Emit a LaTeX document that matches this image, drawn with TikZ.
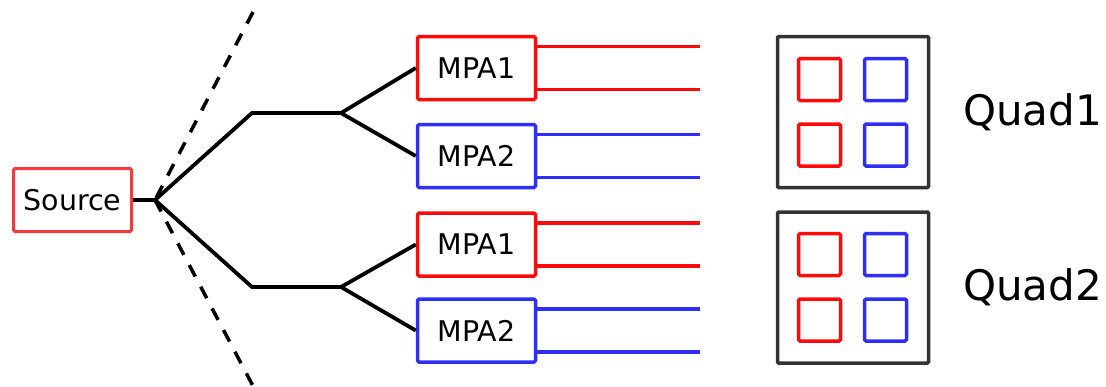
\documentclass[tikz,border=0pt]{standalone}
\usepackage{fontspec}
\setmainfont{DejaVu Sans}
\definecolor{myred}{HTML}{FF0A0A}
\definecolor{srcred}{HTML}{F43A3A}
\definecolor{myblue}{HTML}{2E2EF5}
\definecolor{frame}{HTML}{333333}
\begin{document}
\begin{tikzpicture}[x=1pt,y=-1pt,
  box/.style={draw, line width=3.5pt, minimum width=118pt, minimum height=63pt, rounded corners=1.5pt, inner sep=0pt, font=\fontsize{28.5}{30}\selectfont},
  redbox/.style={box, draw=myred},
  bluebox/.style={box, draw=myblue},
  wire/.style={line width=3.5pt},
  feed/.style={line width=3.8pt, black, line join=miter},
  dashline/.style={line width=3.5pt, black, dash pattern=on 13pt off 11.5pt},
  quadbox/.style={draw=frame, line width=3.5pt, minimum size=151pt, inner sep=0pt, rounded corners=1pt},
  cell/.style={line width=3.5pt, minimum size=42pt, inner sep=0pt, rounded corners=1.5pt},
  qlabel/.style={anchor=base west, inner sep=0pt, font=\fontsize{42}{46}\selectfont}]
\useasboundingbox (0,0) rectangle (1106,386);
% source
\node[box, draw=srcred, line width=3pt] (src) at (72.5,200) {Source};
\coordinate (J) at (155,200);
\coordinate (dtop) at (253,12);
\coordinate (dbot) at (253,386);
\draw[dashline] (dtop) -- (J);
\draw[dashline] (J) -- (dbot);
% MPA boxes
\node[redbox] (m1) at (476.5,68) {MPA1};
\node[bluebox] (m2) at (476.5,156) {MPA2};
\node[redbox] (m3) at (476.5,244.5) {MPA1};
\node[bluebox] (m4) at (476.5,330.5) {MPA2};
% feed network
\coordinate (K1) at (252,113);
\coordinate (S1) at (341,113);
\coordinate (K2) at (252,287);
\coordinate (S2) at (341,287);
\draw[feed] (src.east) -- (J);
\draw[feed] (J) -- (K1) -- (S1) -- (m1.west);
\draw[feed] (S1) -- (m2.west);
\draw[feed] (J) -- (K2) -- (S2) -- (m3.west);
\draw[feed] (S2) -- (m4.west);
% outputs
\coordinate (xend) at (700,0);
\foreach \m/\c in {m1/myred,m2/myblue,m3/myred,m4/myblue}{
  \draw[wire,\c] ([yshift=21.5pt]\m.east) -- ([yshift=21.5pt]\m.east -| xend);
  \draw[wire,\c] ([yshift=-21.5pt]\m.east) -- ([yshift=-21.5pt]\m.east -| xend);
}
% quads
\node[quadbox] (q1) at (853,112) {};
\node[quadbox] (q2) at (853,287.5) {};
\node[cell, draw=myred] (q1a) at (819.5,79.5) {};
\node[cell, draw=myblue] (q1b) at (885.5,79.5) {};
\node[cell, draw=myred] (q1c) at (819.5,145) {};
\node[cell, draw=myblue] (q1d) at (885.5,145) {};
\node[cell, draw=myred] (q2a) at (819.5,254.5) {};
\node[cell, draw=myblue] (q2b) at (885.5,254.5) {};
\node[cell, draw=myred] (q2c) at (819.5,320) {};
\node[cell, draw=myblue] (q2d) at (885.5,320) {};
\node[qlabel] (l1) at (963,125) {Quad1};
\node[qlabel] (l2) at (963,300) {Quad2};
\end{tikzpicture}
\end{document}
